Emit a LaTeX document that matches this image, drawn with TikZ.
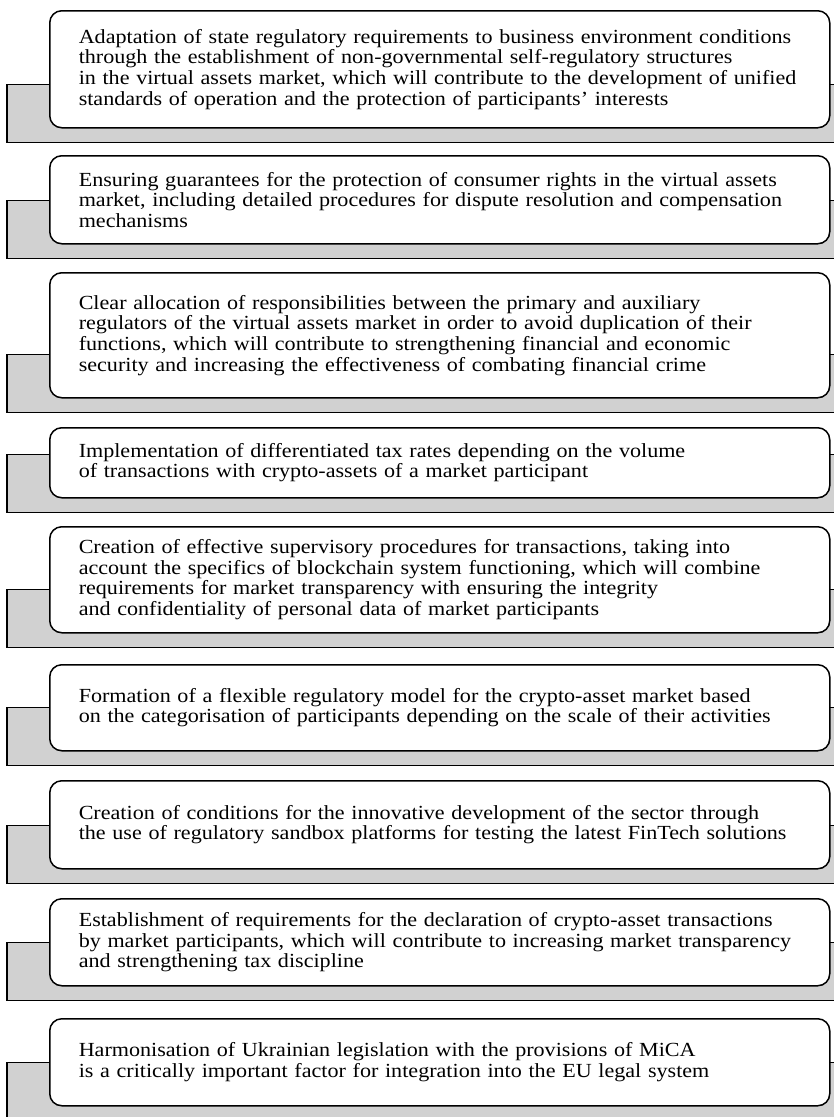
\documentclass[tikz,border=0pt]{standalone}
\usepackage{fontspec}
\setmainfont{Liberation Serif}[FakeStretch=1.105]
\usetikzlibrary{calc,backgrounds}
\hyphenpenalty=10000

\begin{document}
\begin{tikzpicture}[x=1pt, y=-1pt,
  item/.style={draw=black, line width=1.5pt, rounded corners=12pt, fill=white, anchor=north west,
    text width=722pt, inner xsep=29pt, inner ysep=0pt, align=left,
    font=\fontsize{20}{20.6}\selectfont},
  tab/.style={draw=black, line width=1.5pt, fill=black!18}]
\useasboundingbox (0,0) rectangle (834,1117);
\node[item, minimum height=117pt] (b1) at (49,10) {Adaptation of state regulatory requirements to business environment conditions\\through the establishment of non-governmental self-regulatory structures\\in the virtual assets market, which will contribute to the development of unified\\standards of operation and the protection of participants’ interests};
\node[item, minimum height=88pt] (b2) at (49,155) {Ensuring guarantees for the protection of consumer rights in the virtual assets\\market, including detailed procedures for dispute resolution and compensation\\mechanisms};
\node[item, minimum height=125pt] (b3) at (49,272) {Clear allocation of responsibilities between the primary and auxiliary\\regulators of the virtual assets market in order to avoid duplication of their\\functions, which will contribute to strengthening financial and economic\\security and increasing the effectiveness of combating financial crime};
\node[item, minimum height=70pt] (b4) at (49,427) {Implementation of differentiated tax rates depending on the volume\\of transactions with crypto-assets of a market participant};
\node[item, minimum height=106pt] (b5) at (49,526) {Creation of effective supervisory procedures for transactions, taking into\\account the specifics of blockchain system functioning, which will combine\\requirements for market transparency with ensuring the integrity\\and confidentiality of personal data of market participants};
\node[item, minimum height=86pt] (b6) at (49,664) {Formation of a flexible regulatory model for the crypto-asset market based\\on the categorisation of participants depending on the scale of their activities};
\node[item, minimum height=88pt] (b7) at (49,780) {Creation of conditions for the innovative development of the sector through\\the use of regulatory sandbox platforms for testing the latest FinTech solutions};
\node[item, minimum height=87pt] (b8) at (49,898) {Establishment of requirements for the declaration of crypto-asset transactions\\by market participants, which will contribute to increasing market transparency\\and strengthening tax discipline};
\node[item, minimum height=87pt] (b9) at (49,1018) {Harmonisation of Ukrainian legislation with the provisions of MiCA\\is a critically important factor for integration into the EU legal system};
\begin{scope}[on background layer]
\draw[tab] ($(b1.south west)+(-42,-44)$) rectangle ($(b1.south east)+(7,14)$);
\draw[tab] ($(b2.south west)+(-42,-44)$) rectangle ($(b2.south east)+(7,14)$);
\draw[tab] ($(b3.south west)+(-42,-44)$) rectangle ($(b3.south east)+(7,14)$);
\draw[tab] ($(b4.south west)+(-42,-44)$) rectangle ($(b4.south east)+(7,14)$);
\draw[tab] ($(b5.south west)+(-42,-44)$) rectangle ($(b5.south east)+(7,14)$);
\draw[tab] ($(b6.south west)+(-42,-44)$) rectangle ($(b6.south east)+(7,14)$);
\draw[tab] ($(b7.south west)+(-42,-44)$) rectangle ($(b7.south east)+(7,14)$);
\draw[tab] ($(b8.south west)+(-42,-44)$) rectangle ($(b8.south east)+(7,14)$);
\draw[tab] ($(b9.south west)+(-42,-44)$) rectangle ($(b9.south east)+(7,14)$);
\end{scope}
\end{tikzpicture}
\end{document}
